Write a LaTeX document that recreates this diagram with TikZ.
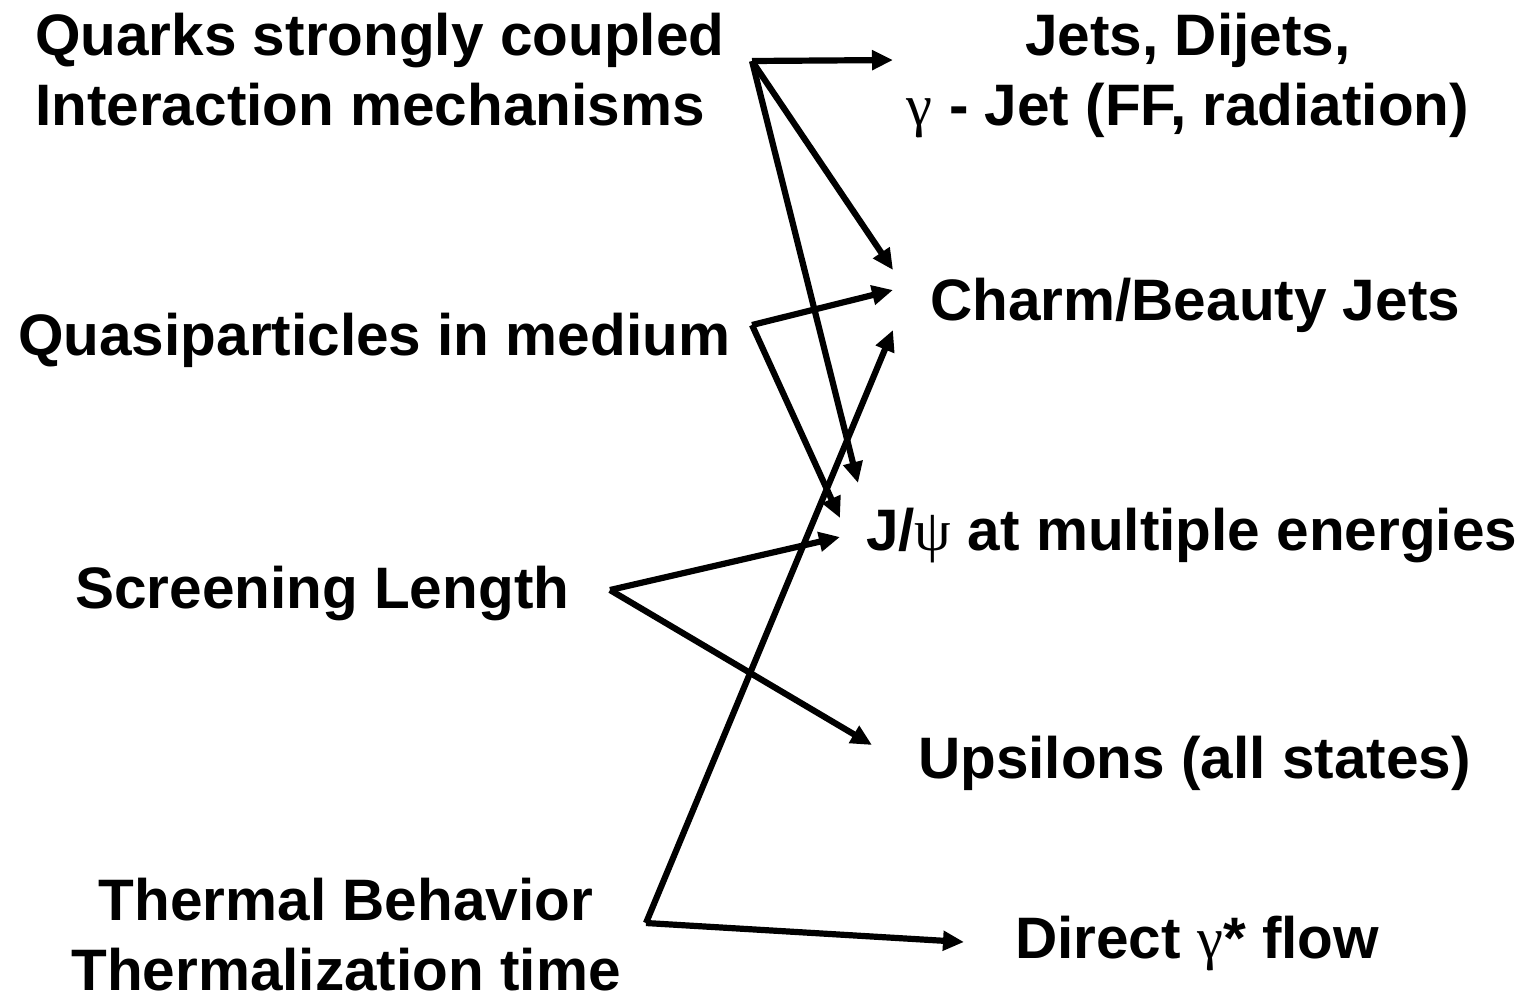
\documentclass[tikz,border=0pt]{standalone}
\usepackage{fontspec}
\setmainfont{Liberation Sans}
\newfontfamily\grk{Liberation Serif}
\usetikzlibrary{arrows.meta}
\begin{document}
\begin{tikzpicture}[x=1pt,y=-1pt,
  lbl/.style={inner sep=0pt,font=\fontsize{58.5}{70}\selectfont\bfseries},
  link/.style={line width=6.2pt,-{Triangle[length=21pt,width=19pt]},line join=miter}]
\useasboundingbox (0,0) rectangle (1534,997);
% causes (left column); a two-line node sits on its last baseline
\node[lbl,anchor=base west,align=left] (quarks) at (35,125) {Quarks strongly coupled\\Interaction mechanisms};
\node[lbl,anchor=base west] (quasi) at (18,355) {Quasiparticles in medium};
\node[lbl,anchor=base west] (screen) at (75,608) {Screening Length};
\node[lbl,anchor=base,align=center] (thermal) at (346,990) {Thermal Behavior\\Thermalization time};
% observables (right column)
\node[lbl,anchor=base,align=center] (jets) at (1188,125) {Jets, Dijets,\\{\grk\mdseries γ} - Jet (FF, radiation)};
\node[lbl,anchor=base west] (charm) at (930,320) {Charm/Beauty Jets};
\node[lbl,anchor=base west] (jpsi) at (866,550) {J/{\grk\mdseries ψ} at multiple energies};
\node[lbl,anchor=base west] (ups) at (918,778) {Upsilons (all states)};
\node[lbl,anchor=base west] (direct) at (1015,958) {Direct {\grk\mdseries γ}* flow};
% arrow origins and ends
\coordinate (qsrc) at (752,61);
\coordinate (msrc) at (752,325);
\coordinate (ssrc) at (610,590);
\coordinate (tsrc) at (646,923);
\coordinate (jetsIn) at (893,60);
\coordinate (charmInA) at (893,270);
\coordinate (charmInB) at (893,290);
\coordinate (charmInC) at (893,330);
\coordinate (jpsiInA) at (858,483);
\coordinate (jpsiInB) at (840,518);
\coordinate (jpsiInC) at (840,537);
\coordinate (upsIn) at (872,745);
\coordinate (directIn) at (964,942);
% links
\draw[link] (qsrc) -- (jetsIn);
\draw[link] (qsrc) -- (charmInA);
\draw[link] (qsrc) -- (jpsiInA);
\draw[link] (msrc) -- (charmInB);
\draw[link] (msrc) -- (jpsiInB);
\draw[link] (ssrc) -- (jpsiInC);
\draw[link] (ssrc) -- (upsIn);
\draw[link] (tsrc) -- (charmInC);
\draw[link] (tsrc) -- (directIn);
\end{tikzpicture}
\end{document}
